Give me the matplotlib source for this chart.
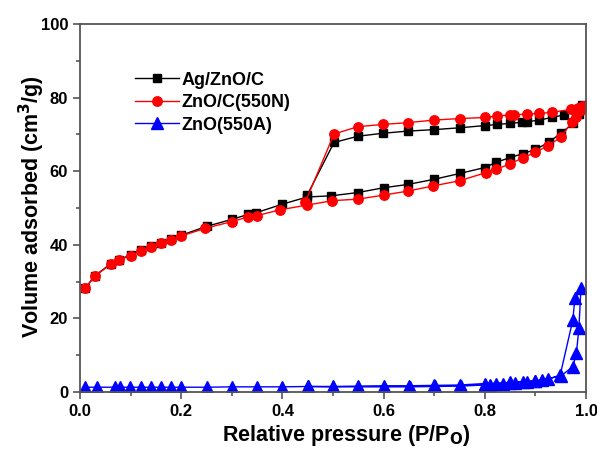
import matplotlib
matplotlib.use("Agg")
import matplotlib.pyplot as plt
from matplotlib.ticker import MultipleLocator, FormatStrFormatter

plt.rcParams['font.family'] = ['Liberation Sans', 'DejaVu Sans']
plt.rcParams['font.weight'] = 'bold'
plt.rcParams['mathtext.default'] = 'bf'

# Ag/ZnO/C: adsorption branch followed by desorption branch
agznoc_p = [0.01, 0.03, 0.061, 0.077, 0.10, 0.12, 0.14, 0.16, 0.18, 0.20, 0.25, 0.30,
            0.333, 0.348, 0.399, 0.449, 0.496, 0.549, 0.60, 0.648, 0.70, 0.751, 0.80,
            0.822, 0.85, 0.876, 0.90, 0.926, 0.95, 0.975, 0.987, 0.993,
            0.985, 0.957, 0.932, 0.908, 0.883, 0.874, 0.85, 0.825, 0.80, 0.751, 0.70,
            0.648, 0.598, 0.549, 0.502, 0.449]
agznoc_v = [28.2, 31.6, 34.9, 36.0, 37.2, 38.5, 39.6, 40.6, 41.5, 42.6, 45.0, 46.9,
            48.3, 48.7, 51.0, 53.0, 53.3, 54.2, 55.5, 56.4, 57.8, 59.4, 61.0,
            62.4, 63.7, 64.8, 65.9, 67.8, 70.3, 73.0, 75.5, 78.0,
            76.6, 75.3, 74.6, 73.9, 73.4, 73.3, 73.0, 72.7, 72.4, 71.8, 71.3,
            70.9, 70.3, 69.5, 67.8, 53.5]

# ZnO/C(550N)
znoc_p = [0.01, 0.03, 0.061, 0.077, 0.10, 0.12, 0.14, 0.16, 0.18, 0.20, 0.248, 0.30,
          0.333, 0.349, 0.395, 0.449, 0.499, 0.549, 0.60, 0.648, 0.698, 0.75, 0.802,
          0.822, 0.85, 0.876, 0.90, 0.924, 0.95, 0.973, 0.98, 0.99, 0.995,
          0.985, 0.97, 0.933, 0.908, 0.883, 0.857, 0.85, 0.825, 0.80, 0.75, 0.70,
          0.648, 0.598, 0.549, 0.502, 0.445]
znoc_v = [28.2, 31.6, 34.7, 35.9, 37.0, 38.3, 39.4, 40.4, 41.3, 42.4, 44.5, 46.3,
          47.6, 47.9, 49.5, 50.8, 52.0, 52.4, 53.5, 54.6, 56.0, 57.4, 59.6,
          60.5, 62.0, 63.7, 65.1, 66.9, 69.2, 73.5, 74.8, 76.6, 77.6,
          77.2, 76.8, 76.0, 75.7, 75.5, 75.3, 75.3, 75.0, 74.6, 74.3, 73.9,
          73.2, 72.7, 72.1, 70.1, 51.5]

# ZnO(550A)
zno_p = [0.01, 0.033, 0.069, 0.079, 0.099, 0.12, 0.14, 0.16, 0.18, 0.20, 0.25, 0.30,
         0.35, 0.40, 0.45, 0.50, 0.55, 0.60, 0.652, 0.701, 0.752, 0.80, 0.81, 0.823,
         0.835, 0.85, 0.86, 0.875, 0.883, 0.90, 0.913, 0.925, 0.949, 0.974, 0.978, 0.99,
         0.986, 0.981, 0.974, 0.95, 0.90, 0.85, 0.80, 0.75, 0.70, 0.65, 0.60, 0.55, 0.50, 0.45]
zno_v = [1.3, 1.3, 1.3, 1.3, 1.3, 1.3, 1.3, 1.3, 1.3, 1.3, 1.3, 1.4,
         1.4, 1.4, 1.5, 1.4, 1.4, 1.4, 1.4, 1.5, 1.6, 1.9, 2.0, 2.1,
         2.2, 2.4, 2.5, 2.7, 2.8, 3.0, 3.2, 3.5, 4.6, 19.6, 25.5, 28.2,
         17.3, 10.5, 6.9, 4.3, 3.0, 2.6, 2.3, 1.9, 1.8, 1.7, 1.7, 1.6, 1.5, 1.5]

fig = plt.figure(figsize=(5.97, 4.49), dpi=100)
ax = fig.add_axes([80 / 597, 57 / 449, 506 / 597, 368 / 449])

ax.plot(agznoc_p, agznoc_v, color='black', lw=1.0, marker='s', ms=5.8, label='Ag/ZnO/C')
ax.plot(znoc_p, znoc_v, color='red', lw=1.0, marker='o', ms=6.8, label='ZnO/C(550N)')
ax.plot(zno_p, zno_v, color='blue', lw=1.0, marker='^', ms=8, label='ZnO(550A)')

ax.set_xlim(0, 1.0)
ax.set_ylim(0, 100)
ax.xaxis.set_major_locator(MultipleLocator(0.2))
ax.xaxis.set_minor_locator(MultipleLocator(0.1))
ax.xaxis.set_major_formatter(FormatStrFormatter('%.1f'))
ax.yaxis.set_major_locator(MultipleLocator(20))
ax.yaxis.set_minor_locator(MultipleLocator(10))
ax.tick_params(which='both', direction='out', top=False, right=False,
               color='#555555', labelsize=12, width=1.2)
ax.tick_params(which='major', length=5)
ax.tick_params(which='minor', length=3)
for lab in ax.get_xticklabels() + ax.get_yticklabels():
    lab.set_fontweight('bold')
for s in ax.spines.values():
    s.set_color('#555555')
    s.set_linewidth(1.3)

ax.set_xlabel('Relative pressure (P/P$_\\mathbf{O}$)', fontsize=15.5, fontweight='bold')
ax.set_ylabel('Volume adsorbed (cm$^\\mathbf{3}$/g)', fontsize=15.5, fontweight='bold')
ax.xaxis.set_label_coords(0.526, -0.083)
ax.yaxis.set_label_coords(-0.066, 0.505)

leg = ax.legend(loc='upper left', bbox_to_anchor=(0.095, 0.89), frameon=False,
                fontsize=13, handlelength=2.4, handletextpad=0.15, labelspacing=0.3,
                borderaxespad=0)
for t in leg.get_texts():
    t.set_fontweight('bold')

fig.savefig('out.png', dpi=100)
